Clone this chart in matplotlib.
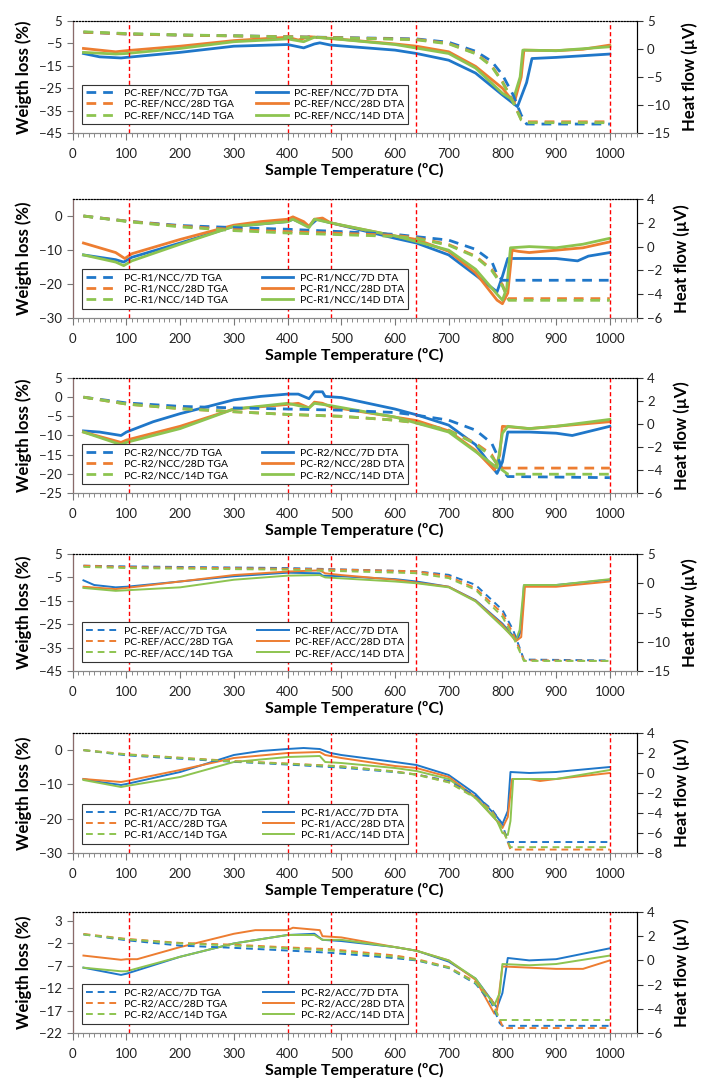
import numpy as np
import matplotlib
matplotlib.use("Agg")
from matplotlib import pyplot as plt

plt.rcParams['font.family'] = ['Lato', 'DejaVu Sans']

# colours of the three ages
c7 = '#1f77c9'
c28 = '#ed7d31'
c14 = '#8dc450'

# ---- PC-REF/NCC ----
ref_ncc_tga7 = [(20, 0), (100, -0.8), (200, -1.3), (300, -1.6), (400, -2), (500, -2.4), (600, -2.8), (640, -3), (700, -4.5), (750, -8.5), (780, -13), (800, -19), (820, -28), (835, -37), (845, -41), (1000, -41)]
ref_ncc_tga28 = [(20, 0), (100, -0.8), (200, -1.3), (300, -1.7), (400, -2), (500, -2.5), (600, -3), (640, -3.2), (700, -5), (750, -9.4), (780, -15), (800, -22), (820, -31), (835, -39), (845, -40), (1000, -40)]
ref_ncc_tga14 = [(20, 0.2), (100, -0.6), (200, -1.2), (300, -1.6), (400, -2.1), (500, -2.6), (600, -3.1), (640, -3.4), (700, -5.2), (750, -9.6), (780, -15.3), (800, -22.3), (820, -31.3), (835, -39.2), (845, -40.4), (1000, -40.4)]
ref_ncc_dta7 = [(20, -0.8), (50, -1.4), (90, -1.6), (100, -1.5), (200, -0.6), (300, 0.5), (400, 0.8), (430, 0.2), (450, 0.9), (460, 1.1), (480, 0.7), (600, -0.2), (640, -0.8), (700, -2), (750, -4.3), (800, -8.2), (828, -10.3), (845, -6), (855, -1.7), (900, -1.5), (1000, -0.9)]
ref_ncc_dta28 = [(20, 0.1), (80, -0.5), (100, -0.3), (200, 0.5), (300, 1.5), (400, 2.1), (420, 1.6), (440, 2.2), (480, 1.9), (600, 0.9), (640, 0.5), (700, -0.5), (750, -3.1), (800, -7), (822, -9.6), (835, -5), (840, -0.2), (900, -0.3), (950, -0.05), (1000, 0.7)]
ref_ncc_dta14 = [(20, -0.6), (80, -0.9), (100, -0.8), (200, 0.1), (300, 1.3), (400, 1.8), (430, 1.3), (450, 2.1), (500, 1.7), (600, 0.8), (700, -0.8), (750, -3.4), (800, -7.9), (820, -9.1), (833, -5), (838, -0.2), (900, -0.3), (1000, 0.4)]

# ---- PC-R1/NCC ----
r1_ncc_tga7 = [(20, 0), (100, -1.5), (200, -2.8), (300, -3.4), (400, -3.9), (500, -4.6), (600, -5.4), (700, -7.1), (750, -9.8), (780, -13.3), (790, -17.2), (800, -18.9), (1000, -18.9)]
r1_ncc_tga28 = [(20, 0), (100, -1.5), (200, -3), (300, -4), (400, -4.6), (500, -5.1), (600, -5.7), (640, -6.4), (700, -8.4), (750, -11.8), (780, -15.7), (800, -20.2), (810, -24.3), (1000, -24.3)]
r1_ncc_tga14 = [(20, 0), (100, -1.6), (200, -3.2), (300, -4.3), (400, -5), (500, -5.5), (600, -6), (640, -6.6), (700, -8.6), (750, -12), (780, -16), (800, -20.6), (812, -24.8), (1000, -24.8)]
r1_ncc_dta7 = [(20, -0.7), (80, -1.1), (95, -1.3), (110, -0.9), (200, 0.3), (300, 1.7), (400, 2.1), (410, 2.3), (440, 1.7), (455, 2.3), (480, 2.0), (600, 0.7), (640, 0.3), (700, -0.7), (750, -2.4), (790, -3.8), (800, -2.5), (810, -1.0), (850, -1.0), (900, -1.0), (940, -1.2), (960, -0.8), (1000, -0.5)]
r1_ncc_dta28 = [(20, 0.3), (50, -0.1), (80, -0.5), (97, -1.0), (110, -0.6), (200, 0.6), (300, 1.8), (350, 2.1), (400, 2.3), (410, 2.5), (430, 2.1), (440, 1.7), (450, 2.3), (465, 2.4), (480, 2.0), (500, 1.8), (600, 0.9), (640, 0.6), (700, -0.4), (750, -2.2), (790, -4.5), (800, -4.8), (810, -3.9), (818, -0.3), (830, -0.4), (850, -0.5), (900, -0.3), (950, -0.1), (1000, 0.4)]
r1_ncc_dta14 = [(20, -0.7), (80, -1.3), (95, -1.6), (110, -1.2), (200, 0.2), (300, 1.7), (400, 2.1), (410, 2.3), (440, 1.6), (450, 2.3), (480, 2.0), (600, 0.9), (700, -0.3), (750, -1.9), (790, -4.0), (800, -4.5), (808, -3.5), (815, -0.1), (850, 0.0), (900, -0.1), (950, 0.2), (1000, 0.7)]

# ---- PC-R2/NCC ----
r2_ncc_tga7 = [(20, 0), (100, -1.5), (200, -2.4), (300, -2.8), (400, -3.1), (500, -3.4), (600, -4), (640, -4.7), (700, -6), (750, -8.6), (780, -12), (790, -15), (800, -19), (810, -20.7), (1000, -21)]
r2_ncc_tga28 = [(20, 0), (100, -1.8), (200, -3), (300, -3.8), (400, -4.5), (500, -5), (600, -6), (640, -6.7), (700, -8.6), (750, -12), (780, -15), (790, -17.6), (800, -18.5), (1000, -18.5)]
r2_ncc_tga14 = [(20, 0), (100, -1.8), (200, -3), (300, -3.8), (400, -4.5), (500, -5), (600, -6), (640, -6.7), (700, -8.7), (750, -12.2), (780, -15.5), (795, -18.5), (810, -20.1), (1000, -20.1)]
r2_ncc_dta7 = [(20, -0.6), (50, -0.7), (90, -1.0), (100, -0.7), (150, 0.2), (200, 0.9), (300, 2.1), (350, 2.4), (400, 2.6), (420, 2.6), (440, 2.2), (450, 2.8), (465, 2.8), (470, 2.4), (500, 2.3), (600, 1.3), (640, 0.8), (700, -0.1), (750, -1.8), (790, -4.3), (800, -3.3), (810, -0.7), (850, -0.7), (900, -0.8), (930, -1.0), (1000, -0.2)]
r2_ncc_dta28 = [(20, -0.7), (90, -1.6), (100, -1.4), (200, -0.2), (300, 1.3), (400, 1.7), (420, 1.8), (440, 1.4), (450, 1.9), (465, 1.8), (480, 1.5), (600, 0.6), (640, 0.3), (700, -0.6), (750, -2.3), (785, -4.0), (795, -2.7), (800, -0.2), (850, -0.4), (900, -0.2), (1000, 0.2)]
r2_ncc_dta14 = [(20, -0.7), (90, -1.8), (100, -1.6), (200, -0.4), (300, 1.3), (400, 1.8), (440, 1.4), (450, 1.8), (480, 1.6), (600, 0.6), (700, -0.7), (750, -2.4), (790, -3.8), (800, -0.8), (810, -0.2), (850, -0.4), (900, -0.2), (1000, 0.4)]

# ---- PC-REF/ACC ----
ref_acc_tga7 = [(20, 0), (100, -0.3), (400, -1), (640, -2.4), (700, -3.9), (750, -8.2), (800, -18.9), (820, -27.5), (840, -40.1), (1000, -40.5)]
ref_acc_tga28 = [(20, 0), (100, -0.6), (400, -1.3), (500, -1.7), (640, -2.4), (700, -4.6), (750, -9.6), (800, -20.4), (820, -29), (840, -40.4), (1000, -40.7)]
ref_acc_tga14 = [(20, -0.5), (100, -1), (400, -1.7), (640, -3.2), (700, -5.3), (750, -10.3), (800, -21.8), (820, -30.4), (840, -40.7), (1000, -40.7)]
ref_acc_dta7 = [(20, 0.5), (40, -0.3), (80, -0.7), (100, -0.6), (200, 0.3), (300, 1.2), (400, 1.8), (460, 1.7), (465, 1.3), (500, 1.2), (600, 0.7), (640, 0.3), (700, -0.6), (750, -2.9), (800, -6.9), (820, -9), (828, -9.6), (835, -8), (840, -0.4), (900, -0.3), (1000, 0.6)]
ref_acc_dta28 = [(20, -0.6), (80, -1), (100, -0.8), (200, 0.3), (300, 1.4), (400, 2.0), (460, 2.2), (470, 1.7), (500, 1.4), (600, 0.6), (640, 0.1), (700, -0.6), (750, -3), (800, -7.1), (825, -9.9), (835, -9.2), (842, -0.6), (900, -0.6), (1000, 0.3)]
ref_acc_dta14 = [(20, -0.8), (80, -1.3), (100, -1.2), (200, -0.7), (300, 0.6), (400, 1.3), (460, 1.4), (470, 1.0), (600, 0.3), (640, 0), (700, -0.7), (750, -3.1), (800, -7.4), (825, -9.7), (832, -8), (840, -0.3), (900, -0.3), (1000, 0.7)]

# ---- PC-R1/ACC ----
r1_acc_tga7 = [(20, 0), (100, -1.5), (200, -2.5), (300, -3.4), (400, -4.2), (500, -5.1), (600, -6.4), (640, -7.1), (700, -9), (750, -13.3), (780, -17.2), (800, -21.6), (810, -26.8), (1000, -26.8)]
r1_acc_tga28 = [(20, 0), (100, -1.2), (200, -2.2), (300, -3.2), (400, -3.9), (500, -4.7), (600, -6.2), (640, -7.1), (700, -9.3), (750, -13.8), (780, -17.7), (800, -22.6), (815, -29), (1000, -29)]
r1_acc_tga14 = [(20, 0), (100, -1.3), (200, -2.3), (300, -3.3), (400, -4), (500, -4.8), (600, -6.3), (640, -7.2), (700, -9.4), (750, -14), (780, -18), (800, -23), (815, -28.3), (1000, -28.3)]
r1_acc_dta7 = [(20, -0.6), (50, -0.9), (90, -1.2), (100, -1.1), (200, 0.1), (300, 1.8), (350, 2.2), (400, 2.4), (430, 2.5), (460, 2.4), (480, 2.0), (500, 1.8), (600, 1.1), (640, 0.8), (700, -0.2), (750, -2.1), (790, -4.4), (800, -5.1), (810, -3.8), (815, 0.1), (850, 0), (900, 0.1), (1000, 0.6)]
r1_acc_dta28 = [(20, -0.6), (90, -0.9), (100, -0.8), (200, 0.3), (300, 1.5), (400, 2.0), (460, 2.1), (470, 1.8), (500, 1.5), (600, 0.7), (640, 0.5), (700, -0.4), (750, -2.4), (790, -4.8), (800, -5.5), (810, -4.4), (818, -0.6), (850, -0.6), (870, -0.8), (900, -0.6), (1000, 0)]
r1_acc_dta14 = [(20, -0.7), (90, -1.4), (100, -1.3), (200, -0.4), (300, 1.1), (400, 1.6), (460, 1.7), (470, 1.1), (500, 1.0), (600, 0.5), (640, 0.2), (700, -0.6), (750, -2.5), (790, -4.8), (800, -6), (810, -6.2), (815, -4.8), (820, -0.6), (850, -0.6), (900, -0.6), (1000, 0.3)]

# ---- PC-R2/ACC ----
r2_acc_tga7 = [(20, 0), (100, -1.3), (200, -2.5), (300, -3), (400, -3.6), (480, -4.1), (600, -5.3), (640, -5.8), (700, -7.5), (750, -11), (780, -15.4), (795, -19.8), (800, -20.4), (1000, -20.4)]
r2_acc_tga28 = [(20, 0.1), (100, -1), (200, -1.9), (300, -2.3), (400, -2.9), (480, -3.3), (600, -4.7), (640, -5.5), (700, -7.3), (750, -10.6), (780, -14.6), (795, -19), (800, -20.5), (805, -20.9), (1000, -20.9)]
r2_acc_tga14 = [(20, 0), (100, -1.1), (200, -2), (300, -2.5), (400, -3.1), (480, -3.6), (600, -5), (640, -5.7), (700, -7.4), (750, -10.8), (780, -15), (795, -19.1), (1000, -19.1)]
r2_acc_dta7 = [(20, -0.6), (90, -1.2), (100, -1.1), (200, 0.3), (300, 1.4), (400, 2.1), (450, 2.2), (465, 1.7), (500, 1.6), (600, 1.1), (640, 0.8), (700, -0.1), (750, -1.5), (790, -3.9), (800, -2.7), (810, 0.2), (850, 0), (900, 0.1), (1000, 1.0)]
r2_acc_dta28 = [(20, 0.4), (90, 0.05), (100, 0.1), (120, 0.1), (200, 1.1), (300, 2.2), (340, 2.5), (400, 2.5), (410, 2.7), (460, 2.5), (465, 2.0), (500, 1.9), (600, 1.1), (640, 0.8), (700, 0), (750, -1.6), (785, -4.4), (790, -4.1), (800, -0.5), (850, -0.6), (900, -0.7), (950, -0.7), (1000, 0)]
r2_acc_dta14 = [(20, -0.6), (90, -0.9), (100, -0.9), (200, 0.3), (300, 1.4), (400, 2.1), (450, 2.1), (465, 1.7), (500, 1.7), (600, 1.1), (640, 0.8), (700, 0), (750, -1.5), (785, -3.7), (795, -2.7), (800, -0.3), (850, -0.4), (900, -0.3), (1000, 0.4)]

red_lines = [105, 400, 480, 640, 1000]

panels = [
    ('PC-REF/NCC', ref_ncc_tga7, ref_ncc_tga28, ref_ncc_tga14, ref_ncc_dta7, ref_ncc_dta28, ref_ncc_dta14,
     (-45, 5), np.arange(-45, 6, 10), (-15, 5), np.arange(-15, 6, 5), 2.0),
    ('PC-R1/NCC', r1_ncc_tga7, r1_ncc_tga28, r1_ncc_tga14, r1_ncc_dta7, r1_ncc_dta28, r1_ncc_dta14,
     (-30, 5), np.arange(-30, 1, 10), (-6, 4), np.arange(-6, 5, 2), 2.0),
    ('PC-R2/NCC', r2_ncc_tga7, r2_ncc_tga28, r2_ncc_tga14, r2_ncc_dta7, r2_ncc_dta28, r2_ncc_dta14,
     (-25, 5), np.arange(-25, 6, 5), (-6, 4), np.arange(-6, 5, 2), 2.0),
    ('PC-REF/ACC', ref_acc_tga7, ref_acc_tga28, ref_acc_tga14, ref_acc_dta7, ref_acc_dta28, ref_acc_dta14,
     (-45, 5), np.arange(-45, 6, 10), (-15, 5), np.arange(-15, 6, 5), 1.4),
    ('PC-R1/ACC', r1_acc_tga7, r1_acc_tga28, r1_acc_tga14, r1_acc_dta7, r1_acc_dta28, r1_acc_dta14,
     (-30, 5), np.arange(-30, 1, 10), (-8, 4), np.arange(-8, 5, 2), 1.4),
    ('PC-R2/ACC', r2_acc_tga7, r2_acc_tga28, r2_acc_tga14, r2_acc_dta7, r2_acc_dta28, r2_acc_dta14,
     (-22, 5), np.arange(-22, 4, 5), (-6, 4), np.arange(-6, 5, 2), 1.4),
]

# axes boxes in pixels (top, bottom) of the 707x1086 picture
boxes = [(21, 133), (199, 318), (378, 493), (554, 671), (733, 853), (912, 1033)]

fig = plt.figure(figsize=(7.07, 10.86), dpi=100)

for (name, t7, t28, t14, d7, d28, d14, ylim, yt, y2lim, y2t, lw), (top, bot) in zip(panels, boxes):
    ax = fig.add_axes([72.7 / 707, 1 - bot / 1086, 564 / 707, (bot - top) / 1086])
    ax2 = ax.twinx()
    ax.set_zorder(2)
    ax.patch.set_visible(False)

    hs = []
    for s, c, age in [(t7, c7, '7D'), (t28, c28, '28D'), (t14, c14, '14D')]:
        x, y = np.array(s).T
        h, = ax.plot(x, y, color=c, lw=lw, ls=(0, (3.5, 2.5)), label=f'{name}/{age} TGA')
        hs.append(h)
    for s, c, age in [(d7, c7, '7D'), (d28, c28, '28D'), (d14, c14, '14D')]:
        x, y = np.array(s).T
        h, = ax2.plot(x, y, color=c, lw=lw, label=f'{name}/{age} DTA')
        hs.append(h)

    for xv in red_lines:
        ax.axvline(xv, color='red', lw=1.0, ls=(0, (3, 2)), zorder=0)

    ax.set_xlim(0, 1050)
    ax.set_ylim(*ylim)
    ax.set_yticks(yt)
    ax2.set_ylim(*y2lim)
    ax2.set_yticks(y2t)
    ax.set_xticks(np.arange(0, 1001, 100))
    ax.set_xticks(np.arange(0, 1051, 10), minor=True)
    ax.tick_params(axis='x', which='major', length=5, width=0.8, color='#777777', labelsize=9.5, pad=6, labelcolor='#222222')
    ax.tick_params(axis='x', which='minor', length=3, width=0.6, color='#777777')
    ax.tick_params(axis='y', length=4, width=0.8, color='#777777', labelsize=9.5, labelcolor='#222222')
    ax2.tick_params(axis='y', length=4, width=0.8, color='#333333', labelsize=9.5, labelcolor='#222222')

    for a in (ax, ax2):
        a.spines['top'].set_linestyle(':')
        a.spines['top'].set_color('black')
        a.spines['top'].set_linewidth(0.8)
        a.spines['bottom'].set_color('#888888')
    ax.spines['left'].set_color('#8a6a6a')
    ax2.spines['right'].set_color('#333333')

    ax.set_ylabel('Weigth loss (%)', fontsize=12, fontweight='bold', labelpad=5)
    ax2.set_ylabel('Heat flow (µV)', fontsize=12, fontweight='bold', labelpad=8)
    ax.set_xlabel('Sample Temperature (ºC)', fontsize=11.5, fontweight='bold', labelpad=2)

    leg = ax.legend(handles=hs, ncol=2, loc='lower left', mode='expand',
                    bbox_to_anchor=(0.008, 0.035, 0.595, 0.36), fontsize=7.5,
                    frameon=True, fancybox=False, edgecolor='#333333', framealpha=1,
                    handlelength=3.0, handletextpad=0.6, labelspacing=0.2,
                    borderpad=0.35, columnspacing=0.8)
    leg.get_frame().set_linewidth(0.8)

fig.savefig('out.png', dpi=100)
